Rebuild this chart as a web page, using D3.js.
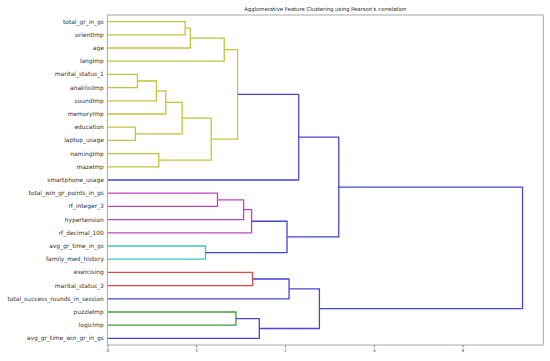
<!DOCTYPE html>
<html><head><meta charset="utf-8">
<script src="https://cdn.jsdelivr.net/npm/d3@7"></script>
<style>body{margin:0;background:#fff}svg{display:block}</style>
</head><body>
<script>
const leaves = ["total_gr_in_gs","orientImp","age","langImp","marital_status_1","anaklisiImp","soundImp","memoryImp","education","laptop_usage","namingImp","mazeImp","smartphone_usage","total_win_gr_points_in_gs","rf_integer_3","hypertension","rf_decimal_100","avg_gr_time_in_gs","family_med_history","exercising","marital_status_3","total_success_rounds_in_session","puzzleImp","logicImp","avg_gr_time_win_gr_in_gs"];
// [childA, childB, distance, colorKey]; node id = leaves.length + index
const merges = [
 [0,1,0.876,"y"],[25,2,0.934,"y"],[26,3,1.316,"y"],[4,5,0.338,"y"],[28,6,0.552,"y"],
 [29,7,0.658,"y"],[8,9,0.315,"y"],[30,31,0.842,"y"],[10,11,0.579,"y"],[32,33,1.169,"y"],
 [27,34,1.466,"y"],[35,12,2.155,"b"],[13,14,1.24,"m"],[37,15,1.534,"m"],[38,16,1.624,"m"],
 [17,18,1.105,"c"],[39,40,2.023,"b"],[36,41,2.606,"b"],[19,20,1.635,"r"],[43,21,2.046,"b"],
 [22,23,1.448,"g"],[45,24,1.711,"b"],[44,46,2.388,"b"],[42,47,4.676,"b"]
];
const xTicks = [0,1,2,3,4];
const title = "Agglomerative Feature Clustering using Pearson's correlation";
const colors = {y:"#c4c43c", m:"#c044c0", c:"#3cc4c4", r:"#e04848", g:"#3c9e3c", b:"#4646d2"};

const W=550,H=361, L=107.4, R=543.3, T=15, B=345;
const svg = d3.select("body").append("svg").attr("width",W).attr("height",H);
const maxD = d3.max(merges, m=>m[2]);
const x = d3.scaleLinear().domain([0, maxD*1.05]).range([L,R]);
const y = d3.scaleLinear().domain([0, leaves.length*10]).range([T,B]);

const pos = {};
leaves.forEach((l,i)=>pos[i]={y:5+10*i,d:0});
merges.forEach((m,i)=>{
  const a=pos[m[0]], b=pos[m[1]];
  pos[leaves.length+i] = {y:(a.y+b.y)/2, d:m[2]};
  const p = d3.path();
  p.moveTo(x(a.d), y(a.y)); p.lineTo(x(m[2]), y(a.y));
  p.lineTo(x(m[2]), y(b.y)); p.lineTo(x(b.d), y(b.y));
  svg.append("path").attr("d",p.toString()).attr("fill","none")
    .attr("stroke",colors[m[3]]).attr("stroke-width",1.3);
});

svg.append("rect").attr("x",L).attr("y",T).attr("width",R-L).attr("height",B-T)
  .attr("fill","none").attr("stroke","#a8a8a8").attr("stroke-width",1);

const ax = svg.append("g").attr("transform",`translate(0,${B})`)
  .call(d3.axisBottom(x).tickValues(xTicks).tickFormat(d3.format("d")).tickSize(2.5).tickPadding(1.5));
ax.select(".domain").remove();
ax.selectAll("line").attr("stroke","#888");
ax.selectAll("text").attr("font-family","DejaVu Sans").attr("font-size",4.5).attr("fill","#444");

svg.append("g").selectAll("text").data(leaves).join("text")
  .attr("x",L-3.5).attr("y",(d,i)=>y(5+10*i)).attr("dy","0.35em")
  .attr("text-anchor","end").attr("font-family","DejaVu Sans").attr("font-size",5.95)
  .attr("fill","#333").text(d=>d);

svg.append("text").attr("x",(L+R)/2).attr("y",11).attr("text-anchor","middle")
  .attr("font-family","DejaVu Sans").attr("font-size",5.3).attr("fill","#222").text(title);
</script>
</body></html>
